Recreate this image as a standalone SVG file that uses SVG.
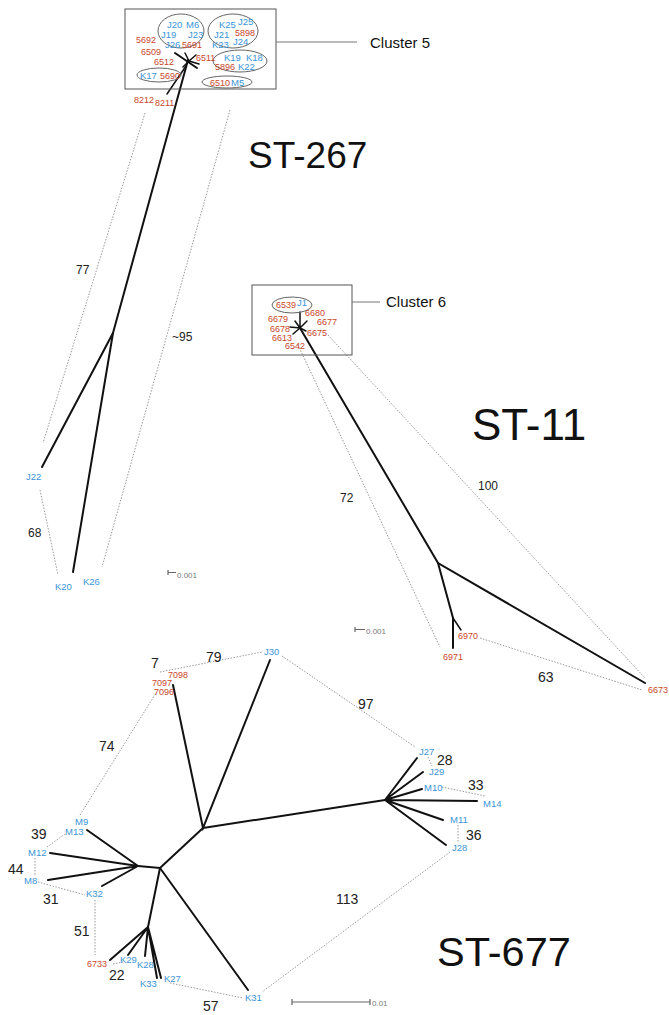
<svg xmlns="http://www.w3.org/2000/svg" width="669" height="1015" viewBox="0 0 669 1015">
<style>
text{font-family:"Liberation Sans",Arial,sans-serif}
.r{fill:#c8472b;font-size:9px}
.b{fill:#3a95d8;font-size:9.5px}
.n{fill:#222;font-size:14px}
.ns{fill:#222;font-size:12px}
.big{fill:#111}
.cl{fill:#111;font-size:15px}
.br{stroke:#111;stroke-width:2;fill:none;stroke-linecap:round}
.bt{stroke:#111;stroke-width:1.5;fill:none;stroke-linecap:round}
.dt{stroke:#999;stroke-width:1;fill:none;stroke-dasharray:1.5 1.5}
.box{stroke:#555;stroke-width:1;fill:none}
.el{stroke:#666;stroke-width:1;fill:none}
.ln{stroke:#777;stroke-width:1}
.sc{stroke:#666;stroke-width:1.2;fill:none}
.st{fill:#777;font-size:8px}
</style>
<g id="connectors">
<path class="br" d="M113,333 L188,60"/>
<path class="br" d="M113,333 L42,467"/>
<path class="br" d="M113,333 L73,572"/>
<path class="bt" d="M167,94 L186,66"/>
<path class="br" d="M175,53 L197,68"/>
<path class="bt" d="M189,61 L185,53 M189,61 L196,55 M189,61 L183,67 M189,61 L199,64"/>
<path class="dt" d="M145,113 L43,443"/>
<path class="dt" d="M230,110 L102,567"/>
<path class="dt" d="M40,490 L58,575"/>
<path class="br" d="M300,328 L438,563 L645,683"/>
<path class="br" d="M438,563 L453,618 L453,648"/>
<path class="bt" d="M453,618 L461,630"/>
<path class="bt" d="M300,312 L300,328 M307,321 L300,328 M290,327 L300,328 M293,334 L300,328 M306,331 L300,328 M295,321 L300,328"/>
<path class="dt" d="M298,345 L440,647"/>
<path class="dt" d="M328,335 L645,678"/>
<path class="dt" d="M480,638 L642,690"/>
<path class="br" d="M173,685 L203,828 L270,660"/>
<path class="br" d="M203,828 L385,800"/>
<path class="br" d="M203,828 L160,868 L138,866"/>
<path class="br" d="M160,868 L148,927"/>
<path class="br" d="M160,868 L248,990"/>
<path class="br" d="M138,866 L87,830 M138,866 L50,853 M138,866 L48,880 M138,866 L102,886"/>
<path class="br" d="M148,927 L110,960 M148,927 L128,955 M148,927 L145,956 M148,927 L157,978 M148,927 L161,978"/>
<path class="br" d="M385,800 L417,758 M385,800 L423,772 M385,800 L422,789 M385,800 L477,801 M385,800 L443,820 M385,800 L446,845"/>
<path class="dt" d="M80,815 L156,693"/>
<path class="dt" d="M160,672 L262,652"/>
<path class="dt" d="M282,656 L415,747"/>
<path class="dt" d="M428,757 L432,766"/>
<path class="dt" d="M442,787 L485,796"/>
<path class="dt" d="M458,825 L458,842"/>
<path class="dt" d="M450,852 L262,992"/>
<path class="dt" d="M170,983 L243,998"/>
<path class="dt" d="M47,847 L65,834"/>
<path class="dt" d="M35,858 L35,876"/>
<path class="dt" d="M38,882 L85,895"/>
<path class="dt" d="M95,900 L95,955"/>
<path class="dt" d="M113,964 L123,962"/>
</g>
<g id="cluster5">
<rect class="box" x="125" y="9" width="151" height="80"/>
<line class="ln" x1="276" y1="42" x2="357" y2="42"/>
<text class="cl" x="370" y="48">Cluster 5</text>
<ellipse class="el" cx="181" cy="31" rx="23" ry="17"/>
<ellipse class="el" cx="233" cy="31" rx="25" ry="17"/>
<ellipse class="el" cx="240" cy="61" rx="27" ry="11"/>
<ellipse class="el" cx="159" cy="75" rx="22" ry="7"/>
<ellipse class="el" cx="227" cy="82" rx="25" ry="6"/>
<text class="b" x="167" y="28">J20</text><text class="b" x="186" y="28">M6</text>
<text class="b" x="161" y="38">J19</text><text class="b" x="188" y="38">J23</text>
<text class="b" x="165" y="48">J26</text><text class="r" x="182" y="48">5691</text>
<text class="b" x="219" y="28">K25</text><text class="b" x="238" y="25">J25</text>
<text class="r" x="235" y="36">5898</text>
<text class="b" x="214" y="38">J21</text><text class="b" x="233" y="45">J24</text>
<text class="b" x="212" y="48">K23</text>
<text class="r" x="136" y="43">5692</text>
<text class="r" x="141" y="55">6509</text>
<text class="r" x="154" y="65">6512</text>
<text class="r" x="196" y="61">6511</text>
<text class="b" x="224" y="61">K19</text><text class="b" x="246" y="61">K18</text>
<text class="r" x="215" y="70">5896</text><text class="b" x="238" y="70">K22</text>
<text class="b" x="140" y="79">K17</text><text class="r" x="160" y="79">5690</text>
<text class="r" x="210" y="86">6510</text><text class="b" x="231" y="86">M5</text>
<text class="r" x="134" y="103">8212</text><text class="r" x="155" y="106">8211</text>
</g>
<g id="st267">
<text class="big" x="248" y="168" font-size="37">ST-267</text>
<text class="ns" x="76" y="274">77</text>
<text class="ns" x="172" y="341">~95</text>
<text class="ns" x="28" y="537">68</text>
<text class="b" x="26" y="480">J22</text>
<text class="b" x="55" y="590">K20</text>
<text class="b" x="83" y="585">K26</text>
<path class="sc" d="M168,570 V575 M168,572.5 H176"/>
<text class="st" x="177" y="578">0.001</text>
</g>
<g id="cluster6">
<rect class="box" x="252" y="285" width="100" height="70"/>
<line class="ln" x1="352" y1="302" x2="380" y2="302"/>
<text class="cl" x="386" y="307">Cluster 6</text>
<ellipse class="el" cx="292" cy="305" rx="20" ry="8"/>
<text class="r" x="276" y="308">6539</text><text class="b" x="297" y="306">J1</text>
<text class="r" x="305" y="316">6680</text>
<text class="r" x="317" y="325">6677</text>
<text class="r" x="268" y="322">6679</text>
<text class="r" x="270" y="332">6678</text>
<text class="r" x="307" y="336">6675</text>
<text class="r" x="272" y="341">6613</text>
<text class="r" x="285" y="349">6542</text>
</g>
<g id="st11">
<text class="big" x="472" y="440" font-size="44">ST-11</text>
<text class="ns" x="340" y="502">72</text>
<text class="ns" x="478" y="490">100</text>
<text class="n" x="538" y="682">63</text>
<text class="r" x="458" y="639">6970</text>
<text class="r" x="443" y="660">6971</text>
<text class="r" x="648" y="693">6673</text>
<path class="sc" d="M355,627 V632 M355,629.5 H365"/>
<text class="st" x="366" y="634">0.001</text>
</g>
<g id="st677">
<text class="big" x="437" y="966" font-size="41.5">ST-677</text>
<text class="n" x="151" y="668">7</text>
<text class="n" x="206" y="662">79</text>
<text class="r" x="168" y="678">7098</text>
<text class="r" x="152" y="686">7097</text>
<text class="r" x="154" y="695">7096</text>
<text class="b" x="264" y="655">J30</text>
<text class="n" x="99" y="751">74</text>
<text class="n" x="358" y="709">97</text>
<text class="b" x="419" y="755">J27</text>
<text class="n" x="437" y="765">28</text>
<text class="b" x="429" y="775">J29</text>
<text class="b" x="424" y="791">M10</text>
<text class="n" x="468" y="790">33</text>
<text class="b" x="483" y="807">M14</text>
<text class="b" x="450" y="823">M11</text>
<text class="n" x="466" y="840">36</text>
<text class="b" x="452" y="851">J28</text>
<text class="n" x="336" y="904">113</text>
<text class="b" x="75" y="825">M9</text>
<text class="b" x="65" y="835">M13</text>
<text class="n" x="31" y="839">39</text>
<text class="b" x="28" y="856">M12</text>
<text class="n" x="8" y="874">44</text>
<text class="b" x="24" y="884">M8</text>
<text class="n" x="43" y="904">31</text>
<text class="b" x="86" y="897">K32</text>
<text class="n" x="74" y="936">51</text>
<text class="r" x="87" y="967">6733</text>
<text class="b" x="120" y="963">K29</text>
<text class="b" x="137" y="968">K28</text>
<text class="n" x="109" y="980">22</text>
<text class="b" x="140" y="987">K33</text>
<text class="b" x="164" y="982">K27</text>
<text class="b" x="245" y="1001">K31</text>
<text class="n" x="203" y="1011">57</text>
<path class="sc" d="M292,999 V1005 M292,1002 H370 M370,999 V1005"/>
<text class="st" x="372" y="1006">0.01</text>
</g>
</svg>
